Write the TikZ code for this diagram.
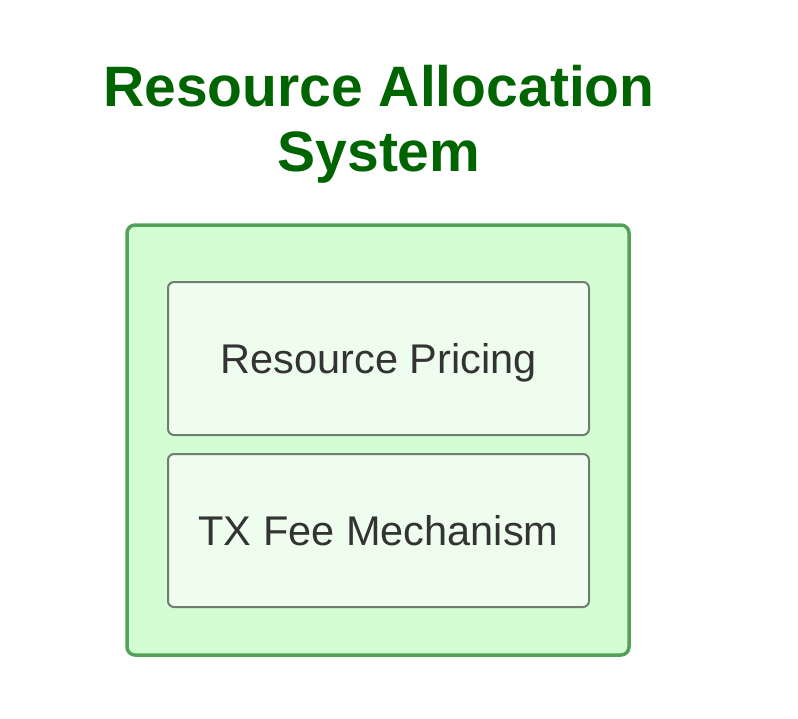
\documentclass[tikz,border=0pt]{standalone}
\usepackage{fontspec}
\setmainfont{Liberation Sans}
\definecolor{outerfill}{HTML}{D3FDD3}
\definecolor{outerdraw}{HTML}{54A15C}
\definecolor{innerfill}{HTML}{EEFDEE}
\definecolor{innerdraw}{HTML}{717D71}
\definecolor{titlegreen}{HTML}{006400}
\definecolor{textgray}{HTML}{333333}
\begin{document}
\begin{tikzpicture}[x=1pt,y=-1pt,
  outerbox/.style={draw=outerdraw,fill=outerfill,line width=3.5pt,rounded corners=8pt},
  innerbox/.style={draw=innerdraw,fill=innerfill,line width=2pt,rounded corners=6pt},
  boxlabel/.style={font=\fontsize{41.5}{46}\selectfont,text=textgray},
  titlestyle/.style={font=\bfseries\fontsize{57}{65}\selectfont,text=titlegreen,align=center}]
\useasboundingbox (0,0) rectangle (798,718);
\draw[outerbox] (127,225) rectangle (629,655);
\draw[innerbox] (168,282) rectangle (589,435);
\draw[innerbox] (168,454) rectangle (589,607);
\node[boxlabel] (pricing) at (378.5,363) {Resource Pricing};
\node[boxlabel] (fee) at (378.5,531) {TX Fee Mechanism};
\node[titlestyle] (title) at (379,124) {Resource Allocation\\System};
\end{tikzpicture}
\end{document}
